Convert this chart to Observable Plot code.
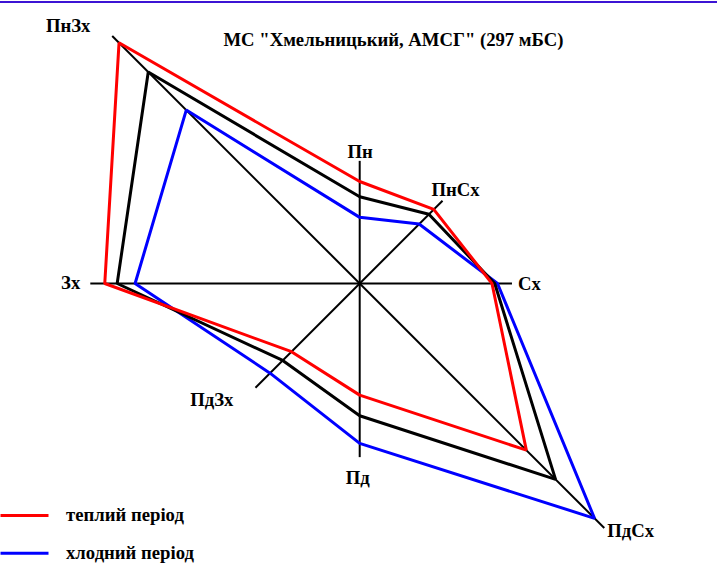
<!DOCTYPE html>
<html>
<head>
<meta charset="utf-8">
<script src="https://cdn.jsdelivr.net/npm/d3@7"></script>
<script src="https://cdn.jsdelivr.net/npm/@observablehq/plot@0.6"></script>
<style>
  html, body { margin: 0; padding: 0; background: #fff; }
  #wrap { position: relative; width: 717px; height: 567px; overflow: hidden; }
  #topline { position: absolute; left: 0; top: 1px; width: 717px; height: 2px; background: #3c14d4; }
</style>
</head>
<body>
<div id="wrap"><div id="topline"></div></div>
<script>
// ---- data (wind frequency, %) ----
const directions = ["Пн", "ПнСх", "Сх", "ПдСх", "Пд", "ПдЗх", "Зх", "ПнЗх"];
const angles = [0, 45, 90, 135, 180, 225, 270, 315];
const warmPeriod = [7.4, 7.6, 9.6, 17.1, 8.1, 7.0, 18.5, 24.7];
const annual = [6.3, 7.1, 9.8, 20.1, 9.6, 7.9, 17.6, 21.7];
const coldPeriod = [4.8, 6.1, 10.0, 24.1, 11.6, 9.2, 16.3, 17.8];
const axisLength = [8.9, 8.5, 11.05, 25.1, 12.6, 10.7, 19.55, 25.4];
const legendNames = ["теплий період", "хлодний період"];
const legendColors = ["#ff0000", "#0000ff"];
const title = "МС \"Хмельницький, АМСГ\" (297 мБС)";

// ---- layout ----
const W = 717, H = 567;
const cx = 359.2, cy = 283;       // centre in pixels
const k = 13.78;                  // pixels per percent
const X = px => (px - cx) / k;
const Y = py => (cy - py) / k;
const rad = a => a * Math.PI / 180;
const px = (r, a) => r * Math.sin(rad(a));
const py = (r, a) => r * Math.cos(rad(a));

const toPoints = vals => vals.map((v, i) => ({dir: directions[i], x: px(v, angles[i]), y: py(v, angles[i])}));
const axes = directions.map((d, i) => ({dir: d, x: px(axisLength[i], angles[i]), y: py(axisLength[i], angles[i])}));

const labelStyle = {
  "Пн":   {textAnchor: "middle", dx: 0.5, dy: -9},
  "ПнСх": {textAnchor: "middle", dx: 13, dy: -11},
  "Сх":   {textAnchor: "start", dx: 6, dy: 1},
  "ПдСх": {textAnchor: "start", dx: 3, dy: 3},
  "Пд":   {textAnchor: "middle", dx: -2, dy: 21},
  "ПдЗх": {textAnchor: "end", dx: -22, dy: 12},
  "Зх":   {textAnchor: "end", dx: -10, dy: 0},
  "ПнЗх": {textAnchor: "middle", dx: -44, dy: -9.5}
};
const font = {fontSize: 18.7, fontFamily: "Liberation Serif, Times New Roman, serif", fontWeight: "bold", fill: "#000"};

const seriesLine = (vals, color) => Plot.line(toPoints(vals), {
  x: "x", y: "y", curve: "linear-closed", stroke: color, strokeWidth: 3, strokeLinejoin: "miter"
});

const chart = Plot.plot({
  width: W, height: H,
  margin: 0,
  x: {domain: [X(0), X(W)], axis: null},
  y: {domain: [Y(H), Y(0)], axis: null},
  marks: [
    Plot.link(axes, {x1: 0, y1: 0, x2: "x", y2: "y", stroke: "#000", strokeWidth: 2}),
    seriesLine(coldPeriod, "#0000ff"),
    seriesLine(annual, "#000000"),
    seriesLine(warmPeriod, "#ff0000"),
    ...axes.map(a => Plot.text([a], {
      x: "x", y: "y", text: "dir", lineAnchor: "middle", ...font,
      ...labelStyle[a.dir]
    })),
    Plot.text([title], {frameAnchor: "top-left", dx: 393, dy: 40, textAnchor: "middle", lineAnchor: "middle", ...font}),
    Plot.link(legendNames, {
      x1: X(0), x2: X(48), y1: (d, i) => Y(515 + i * 37.7), y2: (d, i) => Y(515 + i * 37.7),
      stroke: (d, i) => legendColors[i], strokeWidth: 3
    }),
    Plot.text(legendNames, {
      x: X(65.5), y: (d, i) => Y(515 + i * 37.7), text: d => d, textAnchor: "start", lineAnchor: "middle", ...font
    })
  ]
});
document.getElementById("wrap").prepend(chart);
</script>
</body>
</html>
